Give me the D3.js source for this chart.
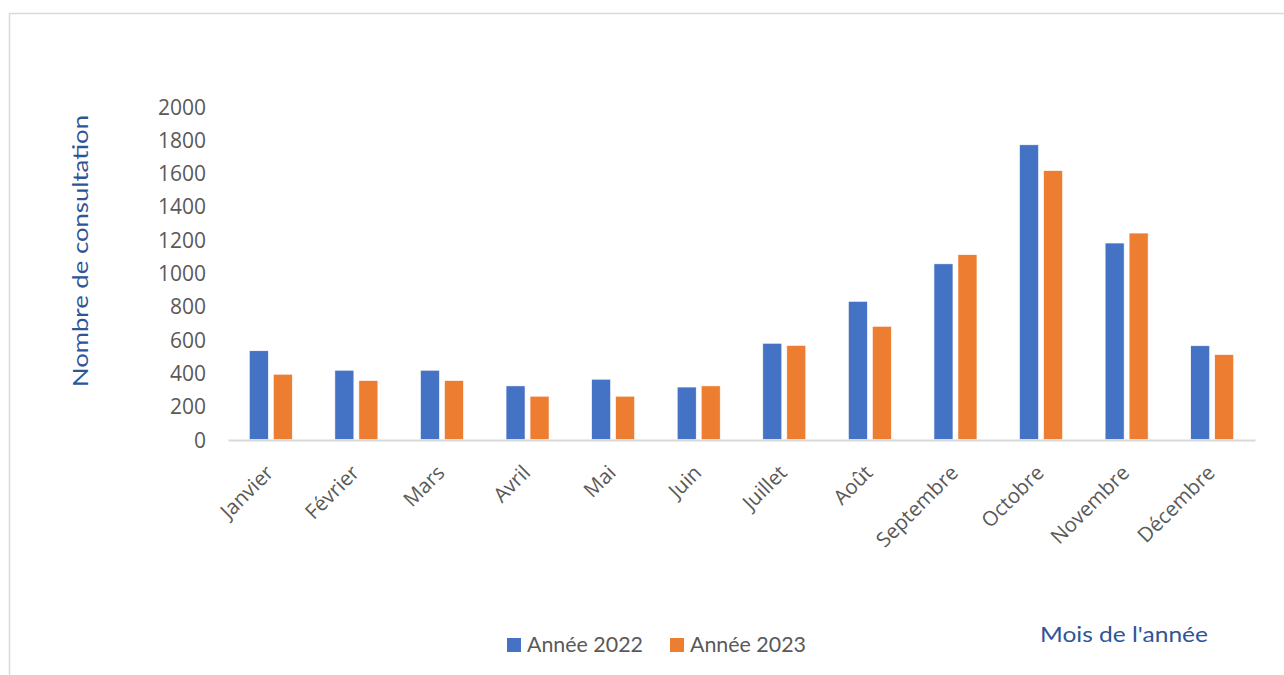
<!DOCTYPE html>
<html>
<head>
<meta charset="utf-8">
<script src="https://cdn.jsdelivr.net/npm/d3@7/dist/d3.min.js"></script>
<style>
  html, body { margin: 0; padding: 0; background: #fff; }
  svg { display: block; }
</style>
</head>
<body>
<svg id="chart" width="1284" height="675"></svg>
<script>
const months = ["Janvier", "Février", "Mars", "Avril", "Mai", "Juin", "Juillet", "Août", "Septembre", "Octobre", "Novembre", "Décembre"];
const series = ["Année 2022", "Année 2023"];
const values2022 = [533, 416, 416, 322, 362, 315, 578, 830, 1055, 1770, 1180, 563];
const values2023 = [392, 354, 354, 260, 260, 322, 565, 680, 1110, 1615, 1240, 510];
const yTicks = [0, 200, 400, 600, 800, 1000, 1200, 1400, 1600, 1800, 2000];
const colors = ["#4472C4", "#ED7D31"];

const data = months.map((m, i) => ({ month: m, vals: [values2022[i], values2023[i]] }));

const svg = d3.select("#chart");

// outer frame
svg.append("rect")
  .attr("x", 9.5).attr("y", 13.5)
  .attr("width", 1300).attr("height", 700)
  .attr("fill", "#fff")
  .attr("stroke", "#d9d9d9").attr("stroke-width", 1.5);

const x0 = d3.scaleBand().domain(months).range([228, 1255]).padding(0);
const groupW = 43;
const x1 = d3.scaleBand().domain(series).range([0, groupW]).paddingInner(0.208);
const y = d3.scaleLinear().domain([0, 2000]).range([439.5, 106.5]);

// y axis
const yAxis = svg.append("g")
  .attr("transform", "translate(206,0)")
  .call(d3.axisLeft(y).tickValues(yTicks).tickFormat(d3.format("d")).tickSize(0).tickPadding(0));
yAxis.select(".domain").remove();
yAxis.selectAll("text")
  .attr("fill", "#595959")
  .style("font-family", "'Open Sans', sans-serif")
  .style("font-size", "21px")
  .attr("dy", "0.36em");

// bars
const groups = svg.append("g").selectAll("g")
  .data(data).join("g")
  .attr("transform", d => `translate(${x0(d.month) + (x0.bandwidth() - groupW) / 2},0)`);
groups.selectAll("rect")
  .data(d => d.vals.map((v, i) => ({ s: series[i], v, i })))
  .join("rect")
  .attr("x", d => x1(d.s))
  .attr("width", x1.bandwidth())
  .attr("y", d => y(d.v))
  .attr("height", d => y(0) - y(d.v))
  .attr("fill", d => colors[d.i])
  .attr("stroke", "#fff").attr("stroke-width", 0.6);

// x axis
const xAxis = svg.append("g")
  .attr("transform", "translate(0,440)")
  .call(d3.axisBottom(x0).tickSize(0).tickPadding(0));
xAxis.select(".domain")
  .attr("stroke", "#d9d9d9").attr("stroke-width", 2);
xAxis.selectAll(".tick text")
  .attr("fill", "#595959")
  .style("font-family", "'Open Sans', sans-serif")
  .style("font-size", "20.5px")
  .attr("text-anchor", "end")
  .attr("x", 0).attr("y", 0).attr("dy", 0)
  .attr("transform", "translate(4,34) rotate(-45)");

// y axis title
svg.append("text")
  .attr("transform", "translate(88,251) rotate(-90)")
  .attr("text-anchor", "middle")
  .attr("fill", "#2F5597")
  .style("font-family", "Lato, sans-serif")
  .style("font-size", "22px")
  .attr("textLength", 272)
  .attr("lengthAdjust", "spacingAndGlyphs")
  .text("Nombre de consultation");

// x axis title
svg.append("text")
  .attr("x", 1040).attr("y", 642)
  .attr("fill", "#2F5597")
  .style("font-family", "Lato, sans-serif")
  .style("font-size", "22px")
  .attr("textLength", 168)
  .attr("lengthAdjust", "spacingAndGlyphs")
  .text("Mois de l'année");

// legend
const legendX = [507, 670];
const legend = svg.append("g").selectAll("g")
  .data(series).join("g")
  .attr("transform", (d, i) => `translate(${legendX[i]},0)`);
legend.append("rect")
  .attr("x", 0).attr("y", 638).attr("width", 14).attr("height", 14)
  .attr("fill", (d, i) => colors[i]);
legend.append("text")
  .attr("x", 20).attr("y", 652)
  .attr("fill", "#595959")
  .style("font-family", "Lato, sans-serif")
  .style("font-size", "21px")
  .attr("textLength", 116)
  .attr("lengthAdjust", "spacingAndGlyphs")
  .text(d => d);
</script>
</body>
</html>
